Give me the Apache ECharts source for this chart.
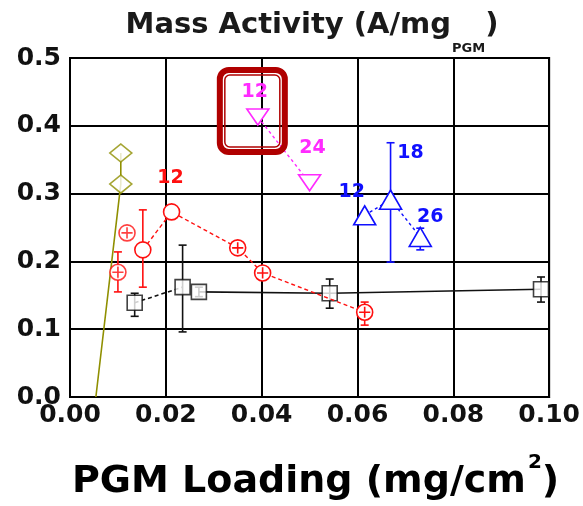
<!DOCTYPE html>
<html>
<head>
<meta charset="utf-8">
<script src="https://cdn.jsdelivr.net/npm/echarts@6/dist/echarts.min.js"></script>
<style>
  html, body { margin: 0; padding: 0; background: #fff; }
  #chart { width: 583px; height: 506px; }
</style>
</head>
<body>
<div id="chart"></div>
<script>
// Mass activity (A/mg PGM) against PGM loading (mg/cm²)
const xTicks = [0, 0.02, 0.04, 0.06, 0.08, 0.10];
const yTicks = [0, 0.1, 0.2, 0.3, 0.4, 0.5];

// Olive diamonds and the guide line rising from the x axis
const oliveLine = [[0.0054, 0], [0.0106, 0.314], [0.0106, 0.36]];
const olivePoints = [[0.0106, 0.314], [0.0106, 0.36]];

// Red circles: a dashed-linked run and two loose points
const redLinked = [[0.0152, 0.217], [0.0212, 0.273], [0.035, 0.220], [0.0402, 0.183], [0.0615, 0.125]];
const redLoose = [[0.0119, 0.242], [0.0100, 0.184]];
const redErr = [[0.0100, 0.155, 0.214], [0.0152, 0.162, 0.276], [0.0615, 0.106, 0.140]];
const redTags = ['', '12', '', '', ''];

// Black squares
const blackPoints = [[0.0135, 0.139], [0.0235, 0.162], [0.0269, 0.155], [0.0542, 0.153], [0.0983, 0.159]];
const blackErr = [[0.0135, 0.119, 0.153], [0.0235, 0.096, 0.224], [0.0269, 0.148, 0.162], [0.0542, 0.131, 0.174], [0.0983, 0.140, 0.177]];

// Magenta down-triangles
const magentaPoints = [[0.0392, 0.413], [0.050, 0.316]];
const magentaTags = ['12', '24'];

// Blue up-triangles
const bluePoints = [[0.0615, 0.268], [0.0669, 0.291], [0.0731, 0.236]];
const blueErr = [[0.0669, 0.199, 0.375], [0.0731, 0.217, 0.249]];
const blueTags = ['12', '18', '26'];

const RED = '#ff1010', BLACK = '#111', MAGENTA = '#ff2bff', BLUE = '#1010ff', OLIVE = '#8f8f00';
const FONT = 'DejaVu Sans';

// label offsets (px) from each marker centre
const redTagOffset = [[0, 0], [-1, -34], [0, 0], [0, 0], [0, 0]];
const magentaTagOffset = [[-3, -25], [3, -35]];
const blueTagOffset = [[-13, -23], [20, -47], [10, -20]];

const tagStyle = color => ({
  show: true, position: 'inside', color: color,
  fontFamily: FONT, fontWeight: 'bold', fontSize: 19
});

function tagged(points, tags, offsets, color) {
  return points.map((p, i) => ({
    value: p,
    label: tags[i] ? Object.assign(tagStyle(color), { formatter: tags[i], offset: offsets[i] }) : { show: false }
  }));
}

function errorBars(data, color, cap) {
  return {
    type: 'custom',
    data: data,
    encode: { x: 0, y: [1, 2] },
    z: 1,
    silent: true,
    renderItem(params, api) {
      const x = api.value(0);
      const lo = api.coord([x, api.value(1)]);
      const hi = api.coord([x, api.value(2)]);
      const style = { stroke: color, lineWidth: 1.6 };
      return {
        type: 'group',
        children: [
          { type: 'line', shape: { x1: lo[0], y1: lo[1], x2: hi[0], y2: hi[1] }, style },
          { type: 'line', shape: { x1: lo[0] - cap, y1: lo[1], x2: lo[0] + cap, y2: lo[1] }, style },
          { type: 'line', shape: { x1: hi[0] - cap, y1: hi[1], x2: hi[0] + cap, y2: hi[1] }, style }
        ]
      };
    }
  };
}

const crossedCircle = 'path://M0,10A10,10 0 1,1 20,10A10,10 0 1,1 0,10ZM10,3L10,17M3,10L17,10';

const markerStyle = color => ({ color: '#fff', borderColor: color, borderWidth: 1.6 });

const chart = echarts.init(document.getElementById('chart'));

const titleText = {
  type: 'text',
  x: 312, y: 11,
  style: {
    text: '{a|Mass Activity (A/mg}{b|PGM}{a|)}',
    align: 'center', verticalAlign: 'top',
    rich: {
      a: { fontFamily: FONT, fontWeight: 'bold', fontSize: 29, fill: '#1a1a1a', lineHeight: 36, verticalAlign: 'top' },
      b: { fontFamily: FONT, fontWeight: 'bold', fontSize: 13, fill: '#1a1a1a', lineHeight: 15, verticalAlign: 'top', padding: [31, 0, 0, 1] }
    }
  }
};

const option = {
  animation: false,
  backgroundColor: '#fff',
  grid: { left: 70, top: 58, right: 33, bottom: 109, show: true, borderColor: '#000', borderWidth: 2 },
  xAxis: {
    type: 'value',
    min: xTicks[0], max: xTicks[xTicks.length - 1], interval: 0.02,
    axisLine: { lineStyle: { color: '#000', width: 2 } },
    axisTick: { show: false },
    splitLine: { lineStyle: { color: '#000', width: 2 } },
    axisLabel: {
      margin: 6, color: '#111', fontFamily: FONT, fontWeight: 'bold', fontSize: 25,
      formatter: v => v.toFixed(2)
    },
    name: '{m|PGM Loading (mg/cm}{s|2}{m|)}',
    nameLocation: 'middle',
    nameGap: 56,
    nameTextStyle: {
      padding: [0, 0, 0, 12],
      rich: {
        m: { fontFamily: FONT, fontWeight: 'bold', fontSize: 38, color: '#000', lineHeight: 48, verticalAlign: 'bottom' },
        s: { fontFamily: FONT, fontWeight: 'bold', fontSize: 20, color: '#000', lineHeight: 22, verticalAlign: 'top', padding: [0, 0, 20, 2] }
      }
    }
  },
  yAxis: {
    type: 'value',
    min: yTicks[0], max: yTicks[yTicks.length - 1], interval: 0.1,
    axisLine: { show: true, lineStyle: { color: '#000', width: 2 } },
    axisTick: { show: false },
    splitLine: { lineStyle: { color: '#000', width: 2 } },
    axisLabel: {
      margin: 9, color: '#111', fontFamily: FONT, fontWeight: 'bold', fontSize: 25,
      formatter: v => v.toFixed(1)
    }
  },
  graphic: [titleText],
  series: [
    errorBars(redErr, RED, 4),
    errorBars(blackErr, BLACK, 4),
    errorBars(blueErr, BLUE, 4),
    {
      type: 'line', name: 'olive guide', data: oliveLine, showSymbol: false, symbol: 'none',
      lineStyle: { color: OLIVE, width: 1.6 }, z: 2
    },
    {
      type: 'scatter', name: 'olive', data: olivePoints, symbol: 'diamond', symbolSize: [22, 18],
      itemStyle: markerStyle(OLIVE), z: 3
    },
    {
      type: 'line', name: 'black dashed', data: blackPoints.slice(0, 2), symbol: 'none',
      lineStyle: { color: BLACK, width: 1.6, type: [4, 3] }, z: 2
    },
    {
      type: 'line', name: 'black solid', data: blackPoints.slice(2), symbol: 'none',
      lineStyle: { color: BLACK, width: 1.6 }, z: 2
    },
    {
      type: 'scatter', name: 'black', data: blackPoints, symbol: 'rect', symbolSize: [15, 15],
      itemStyle: markerStyle(BLACK), z: 3
    },
    {
      type: 'line', name: 'red', data: tagged(redLinked, redTags, redTagOffset, RED),
      symbol: (v, p) => (p.dataIndex < 2 ? 'circle' : crossedCircle), symbolSize: 16, showAllSymbol: true,
      lineStyle: { color: RED, width: 1.4, type: [4, 3] },
      itemStyle: markerStyle(RED), z: 4
    },
    {
      type: 'scatter', name: 'red loose', data: redLoose, symbol: crossedCircle, symbolSize: 16,
      itemStyle: markerStyle(RED), z: 4
    },
    {
      type: 'line', name: 'magenta', data: tagged(magentaPoints, magentaTags, magentaTagOffset, MAGENTA),
      symbol: 'triangle', symbolRotate: 180, symbolSize: [22, 16], showAllSymbol: true,
      lineStyle: { color: MAGENTA, width: 1.4, type: [3, 3] },
      itemStyle: markerStyle(MAGENTA), z: 4
    },
    {
      type: 'line', name: 'blue', data: tagged(bluePoints, blueTags, blueTagOffset, BLUE),
      symbol: 'triangle', symbolSize: [22, 19], showAllSymbol: true,
      lineStyle: { color: BLUE, width: 1.4, type: [3, 3] },
      itemStyle: markerStyle(BLUE), z: 4
    }
  ]
};

chart.setOption(option);

// Double-ruled highlight frame around the first magenta point
const c = chart.convertToPixel({ gridIndex: 0 }, magentaPoints[0]);
const frameColor = '#b00000';
chart.setOption({
  graphic: [
    titleText,
    {
      type: 'rect', z: 10,
      shape: { x: c[0] - 38, y: c[1] - 47, width: 65, height: 82, r: 9 },
      style: { fill: 'none', stroke: frameColor, lineWidth: 6 }
    },
    {
      type: 'rect', z: 10,
      shape: { x: c[0] - 33, y: c[1] - 42, width: 55, height: 72, r: 5 },
      style: { fill: 'none', stroke: frameColor, lineWidth: 1.5 }
    }
  ]
});
</script>
</body>
</html>
